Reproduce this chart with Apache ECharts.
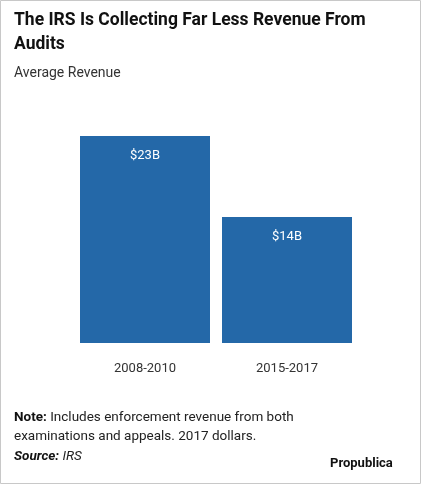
<!DOCTYPE html>
<html>
<head>
<meta charset="utf-8">
<script src="https://cdn.jsdelivr.net/npm/echarts@6/dist/echarts.min.js"></script>
<style>
  html, body { margin: 0; padding: 0; background: #fff; }
  #chart { width: 421px; height: 484px; }
</style>
</head>
<body>
<div id="chart"></div>
<script>
// 数据
const periods = ['2008-2010', '2015-2017'];
const revenue = [23, 14];
const revenueLabels = ['$23B', '$14B'];

const font = 'Roboto, "Liberation Sans", sans-serif';
let mychart = echarts.init(document.getElementById('chart'));

let option = {
  animation: false,
  grid: { left: 74, right: 63, top: 136, bottom: 141 },
  xAxis: {
    type: 'category',
    data: periods,
    axisLine: { show: false },
    axisTick: { show: false },
    axisLabel: { color: '#333', fontSize: 13, fontFamily: font, margin: 19 }
  },
  yAxis: { type: 'value', min: 0, max: 23, show: false },
  series: [{
    type: 'bar',
    data: revenue,
    barWidth: 130,
    itemStyle: { color: '#2468a8' },
    label: {
      show: true,
      position: 'insideTop',
      distance: 13,
      color: '#fff',
      fontSize: 13,
      fontFamily: font,
      formatter: (p) => revenueLabels[p.dataIndex]
    }
  }],
  graphic: [
    { type: 'rect', shape: { x: 0.5, y: 0.5, width: 420, height: 483 },
      style: { fill: 'none', stroke: '#c8c8c8', lineWidth: 1 } },
    { type: 'text', left: 14, top: 9, style: {
      text: 'The IRS Is Collecting Far Less Revenue From\nAudits',
      font: 'bold 17.5px ' + font, fill: '#111', lineHeight: 24 } },
    { type: 'text', left: 14, top: 66, style: {
      text: 'Average Revenue', font: '14px ' + font, fill: '#333' } },
    { type: 'text', left: 14, top: 408, style: {
      rich: {
        b: { font: 'bold 13.5px ' + font, fill: '#111' },
        n: { font: '13.5px ' + font, fill: '#222' }
      },
      text: '{b|Note:}{n| Includes enforcement revenue from both}\n{n|examinations and appeals. 2017 dollars.}',
      lineHeight: 19 } },
    { type: 'text', left: 14, top: 450, style: {
      rich: {
        b: { font: 'italic bold 13.5px ' + font, fill: '#111' },
        n: { font: 'italic 13.5px ' + font, fill: '#222' }
      },
      text: '{b|Source:}{n| IRS}' } },
    { type: 'text', left: 330, top: 457, style: {
      text: 'Propublica', font: 'bold 13px ' + font, fill: '#111' } }
  ]
};
mychart.setOption(option);
</script>
</body>
</html>
